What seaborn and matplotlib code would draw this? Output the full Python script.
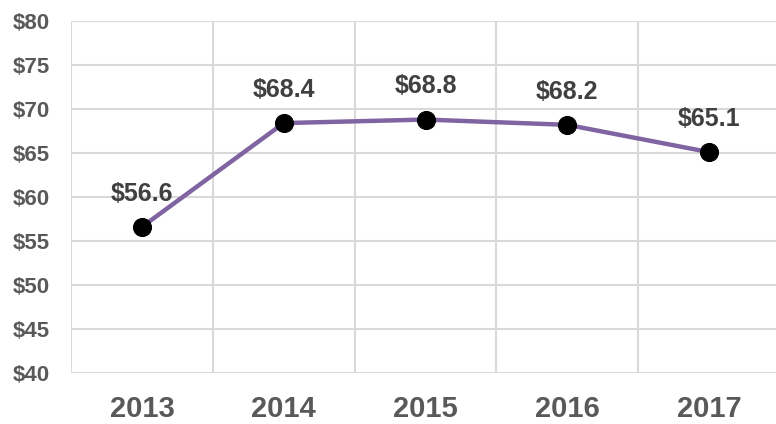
import matplotlib
matplotlib.use("Agg")
import matplotlib.pyplot as plt
import pandas as pd
import seaborn as sns

#%% data
years = ['2013', '2014', '2015', '2016', '2017']
values = [56.6, 68.4, 68.8, 68.2, 65.1]
y_ticks = [40, 45, 50, 55, 60, 65, 70, 75, 80]

df = pd.DataFrame({'year': years, 'value': values})

#%% plot
sns.set_style('white')
plt.rcParams['font.family'] = ['Liberation Sans', 'DejaVu Sans']

fig = plt.figure(figsize=(7.76, 4.24), dpi=100)
ax = fig.add_axes([71/776, 51/424, 709/776, 352/424])

sns.lineplot(data=df, x='year', y='value', ax=ax, color='#8064a2',
             linewidth=3.2, marker='o', markersize=13,
             markerfacecolor='black', markeredgecolor='black', zorder=3)

for i, v in enumerate(values):
    ax.annotate('$' + format(v, '.1f'), (i, v), xytext=(0, 24),
                textcoords='offset points', ha='center', va='center',
                fontsize=18, fontweight='bold', color='#404040')

ax.set_xlim(-0.5, 4.5)
ax.set_ylim(40, 80)
ax.set_yticks(y_ticks)
ax.set_yticklabels(['$' + str(t) for t in y_ticks])
ax.set_xticks(range(len(years)))
ax.set_xticks([i - 0.5 for i in range(len(years))], minor=True)
ax.tick_params(axis='y', labelsize=16, labelcolor='#595959', length=0, pad=15)
ax.tick_params(axis='x', labelsize=21, labelcolor='#595959', length=0, pad=16)
ax.tick_params(axis='x', which='minor', length=0)
for lab in ax.get_xticklabels() + ax.get_yticklabels():
    lab.set_fontweight('bold')

ax.grid(axis='y', which='major', color='#d9d9d9', linewidth=1.5)
ax.grid(axis='x', which='minor', color='#d9d9d9', linewidth=1.5)
ax.grid(axis='x', which='major', visible=False)
for s in ax.spines.values():
    s.set_visible(False)
ax.set_xlabel('')
ax.set_ylabel('')

fig.savefig('out.png', dpi=100)
